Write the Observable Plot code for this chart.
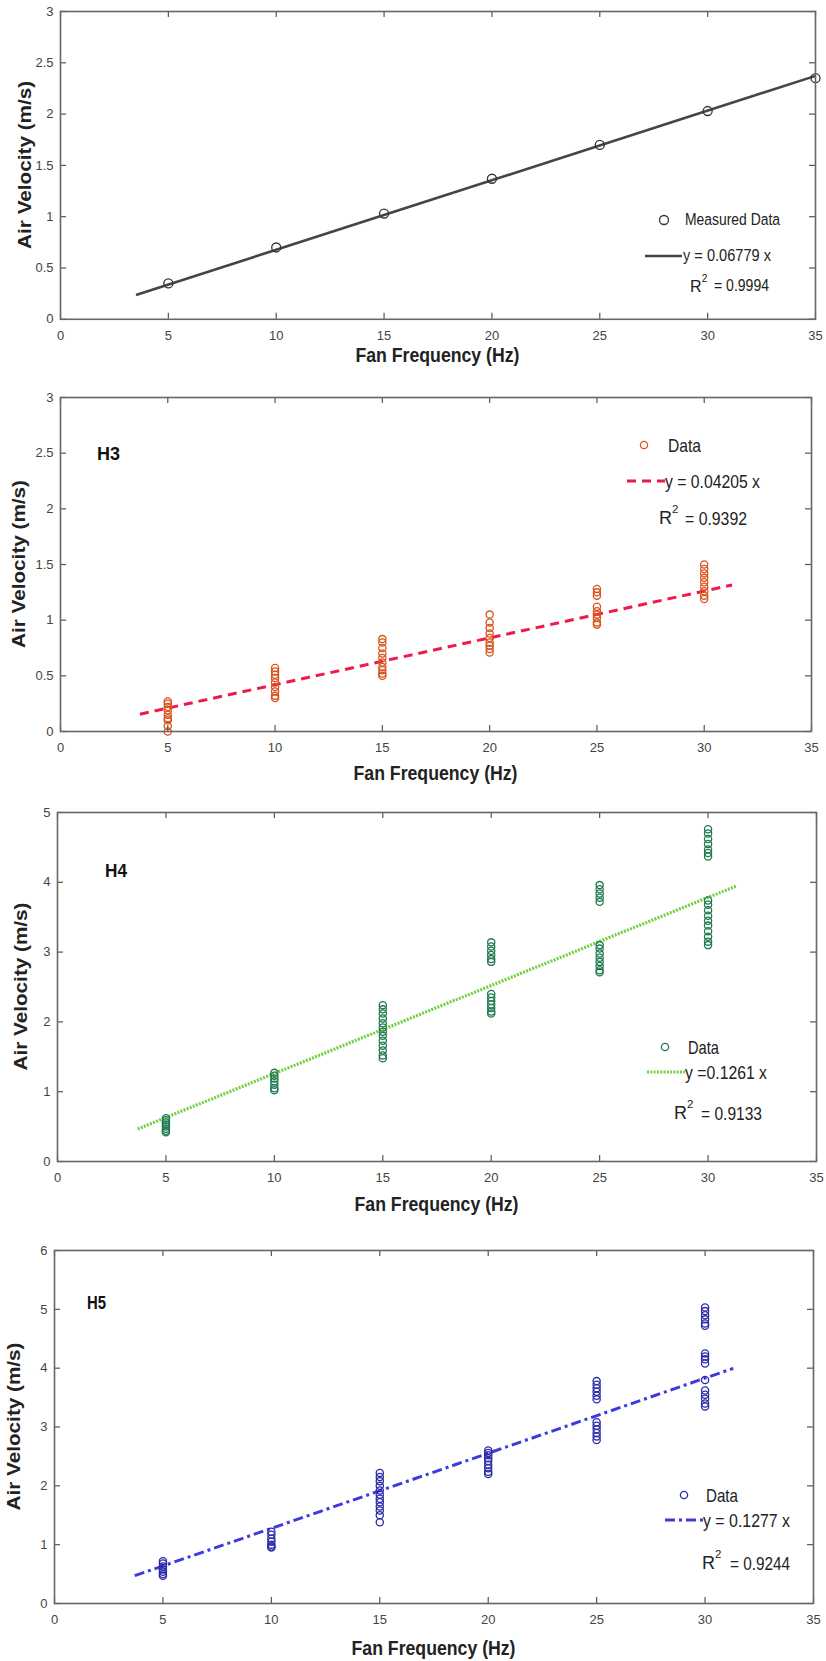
<!DOCTYPE html>
<html><head><meta charset="utf-8">
<script src="https://cdn.jsdelivr.net/npm/d3@7"></script>
<script src="https://cdn.jsdelivr.net/npm/@observablehq/plot@0.6"></script>
<style>
body{margin:0;background:#fff;}
#wrap{position:relative;width:826px;height:1661px;overflow:hidden;background:#fff;}
#wrap svg{position:absolute;left:0;}
</style></head><body><div id="wrap"></div>
<script>
// ---------- data ----------
const xTicks = [0, 5, 10, 15, 20, 25, 30, 35];

// Panel 1 : measured data
const p1Freq = [5, 10, 15, 20, 25, 30, 35];
const p1Vel = [0.35, 0.70, 1.03, 1.37, 1.70, 2.03, 2.35];
const p1Slope = 0.06779;
const p1FitX = [3.5, 35];
const p1YTicks = [0, 0.5, 1, 1.5, 2, 2.5, 3];

// Panel 2 : H3
const h3Freq = [5, 10, 15, 20, 25, 30];
const h3Vel = [
  [0.27, 0.25, 0.22, 0.19, 0.15, 0.12, 0.10, 0.05, 0.0],
  [0.57, 0.54, 0.51, 0.48, 0.44, 0.40, 0.36, 0.32, 0.30],
  [0.83, 0.80, 0.75, 0.70, 0.66, 0.62, 0.58, 0.55, 0.52, 0.50],
  [1.05, 0.98, 0.93, 0.88, 0.84, 0.80, 0.77, 0.74, 0.71],
  [1.28, 1.25, 1.22, 1.12, 1.08, 1.05, 1.02, 0.98, 0.96],
  [1.50, 1.46, 1.42, 1.38, 1.34, 1.30, 1.26, 1.22, 1.19]
];
const h3Slope = 0.04205;
const h3FitX = [3.7, 31.3];
const h3YTicks = [0, 0.5, 1, 1.5, 2, 2.5, 3];

// Panel 3 : H4
const h4Freq = [5, 10, 15, 20, 25, 30];
const h4Vel = [
  [0.62, 0.59, 0.56, 0.53, 0.50, 0.47, 0.44, 0.42],
  [1.27, 1.23, 1.19, 1.15, 1.10, 1.05, 1.02],
  [2.24, 2.18, 2.12, 2.05, 1.98, 1.92, 1.86, 1.80, 1.73, 1.66, 1.59, 1.52, 1.48],
  [3.14, 3.08, 3.02, 2.96, 2.90, 2.86, 2.40, 2.35, 2.30, 2.25, 2.20, 2.15, 2.12],
  [3.96, 3.90, 3.84, 3.78, 3.72, 3.10, 3.05, 2.98, 2.92, 2.86, 2.80, 2.74, 2.71],
  [4.76, 4.70, 4.62, 4.55, 4.47, 4.42, 4.37, 3.74, 3.68, 3.60, 3.52, 3.45, 3.38, 3.30, 3.22, 3.15, 3.10]
];
const h4Slope = 0.1261;
const h4FitX = [3.7, 31.3];
const h4YTicks = [0, 1, 2, 3, 4, 5];

// Panel 4 : H5
const h5Freq = [5, 10, 15, 20, 25, 30];
const h5Vel = [
  [0.72, 0.68, 0.63, 0.58, 0.54, 0.50, 0.47],
  [1.22, 1.17, 1.10, 1.05, 1.00, 0.97, 0.95],
  [2.22, 2.15, 2.08, 2.00, 1.92, 1.85, 1.78, 1.72, 1.65, 1.58, 1.50, 1.38],
  [2.60, 2.56, 2.52, 2.47, 2.42, 2.36, 2.30, 2.24, 2.20],
  [3.78, 3.72, 3.66, 3.60, 3.53, 3.47, 3.08, 3.02, 2.96, 2.90, 2.84, 2.78],
  [5.03, 4.97, 4.90, 4.83, 4.76, 4.72, 4.25, 4.20, 4.15, 4.08, 3.80, 3.62, 3.55, 3.48, 3.40, 3.35]
];
const h5Slope = 0.1277;
const h5FitX = [3.7, 31.3];
const h5YTicks = [0, 1, 2, 3, 4, 5, 6];

// legend / annotation texts
const legendLabels = ["Measured Data", "Data", "Data", "Data"];
const eqLabels = ["y = 0.06779 x", "y = 0.04205 x", "y =0.1261 x", "y = 0.1277 x"];
const r2Labels = ["= 0.9994", "= 0.9392", "= 0.9133", "= 0.9244"];
const panelTags = [null, "H3", "H4", "H5"];
const xTitle = "Fan Frequency (Hz)";
const yTitle = "Air Velocity (m/s)";

// ---------- helpers ----------
const flat = (freq, vel) => freq.flatMap((f, i) => vel[i].map(v => ({f, v})));
const FONT = "'Liberation Sans',Arial,sans-serif";

const panels = [
  {points: p1Freq.map((f, i) => ({f, v: p1Vel[i]})), slope: p1Slope, fitX: p1FitX, yTicks: p1YTicks, yMax: 3,
   L: 60, R: 815, T: 10.7, B: 318.5, r: 4.5, dot: "#333", line: "#454545", lw: 2.6, dash: null,
   xlab: 36.5, ylabX: 25,
   leg: {cx: 604, cy: 209, tx: 625, lx1: 585, lx2: 622, ly: 245, ex: 623, rx: 630, ry: 275, r2x: 654, fs: 17,
         w: [95, 88, 55]}},
  {points: flat(h3Freq, h3Vel), slope: h3Slope, fitX: h3FitX, yTicks: h3YTicks, yMax: 3,
   L: 60, R: 811, T: 397, B: 731, r: 3.6, dot: "#d9531e", line: "#f0194b", lw: 3, dash: "9,6",
   xlab: 42, ylabX: 19, tag: {x: 37, y: 56, w: 23},
   leg: {cx: 584, cy: 48, tx: 608, lx1: 567, lx2: 605, ly: 84, ex: 605, rx: 599, ry: 121, r2x: 625, fs: 19,
         w: [33, 95, 62]}},
  {points: flat(h4Freq, h4Vel), slope: h4Slope, fitX: h4FitX, yTicks: h4YTicks, yMax: 5,
   L: 57, R: 816, T: 812, B: 1161, r: 3.6, dot: "#1f7a4f", line: "#72d040", lw: 3.2, dash: "2,1.3",
   xlab: 43, ylabX: 21, tag: {x: 48, y: 58, w: 22},
   leg: {cx: 608, cy: 235, tx: 631, lx1: 590, lx2: 628, ly: 260, ex: 628, rx: 617, ry: 301, r2x: 644, fs: 19,
         w: [31, 82, 61]}},
  {points: flat(h5Freq, h5Vel), slope: h5Slope, fitX: h5FitX, yTicks: h5YTicks, yMax: 6,
   L: 54, R: 813, T: 1250, B: 1603, r: 3.6, dot: "#2b2ba8", line: "#3b3be0", lw: 3, dash: "10,4,3,4",
   xlab: 44.5, ylabX: 14, tag: {x: 33, y: 52, w: 19},
   leg: {cx: 630, cy: 245, tx: 652, lx1: 611, lx2: 649, ly: 270, ex: 649, rx: 648, ry: 313, r2x: 676, fs: 19,
         w: [32, 87, 60]}}
];

function addText(parent, str, x, y, o = {}) {
  const t = parent.append("text").text(str)
    .attr("x", x).attr("y", y)
    .attr("text-anchor", o.anchor || "start")
    .attr("dominant-baseline", "central")
    .attr("font-family", FONT)
    .attr("font-size", o.size || 16)
    .attr("font-weight", o.weight || "normal")
    .attr("fill", o.fill || "#222");
  if (o.width) t.attr("textLength", o.width).attr("lengthAdjust", "spacingAndGlyphs");
  if (o.transform) t.attr("transform", o.transform);
  return t;
}

const wrap = document.getElementById("wrap");
const W = 826, MT = 30, MB = 60;

panels.forEach((c, i) => {
  const fh = c.B - c.T, fw = c.R - c.L;
  const fit = c.fitX.map(x => ({x, y: c.slope * x}));
  const svg = Plot.plot({
    width: W, height: fh + MT + MB,
    marginLeft: c.L, marginRight: W - c.R, marginTop: MT, marginBottom: MB,
    x: {domain: [0, 35]},
    y: {domain: [0, c.yMax]},
    style: {fontFamily: FONT, fontSize: "13px", color: "#444", background: "transparent", overflow: "visible"},
    marks: [
      Plot.line(fit, {x: "x", y: "y", stroke: c.line, strokeWidth: c.lw, strokeDasharray: c.dash, strokeLinecap: "butt"}),
      Plot.dot(c.points, {x: "f", y: "v", r: c.r, stroke: c.dot, strokeWidth: 1.3, fill: "none"}),
      Plot.tickX(xTicks, {x: d => d, insetTop: fh - 6, stroke: "#555", strokeWidth: 1.2}),
      Plot.tickX(xTicks, {x: d => d, insetBottom: fh - 6, stroke: "#555", strokeWidth: 1.2}),
      Plot.tickY(c.yTicks, {y: d => d, insetRight: fw - 6, stroke: "#555", strokeWidth: 1.2}),
      Plot.tickY(c.yTicks, {y: d => d, insetLeft: fw - 6, stroke: "#555", strokeWidth: 1.2}),
      Plot.axisX(xTicks, {tickSize: 0, tickPadding: 11, label: null, fill: "#444", tickFormat: d => String(d)}),
      Plot.axisY(c.yTicks, {tickSize: 0, tickPadding: 7, label: null, fill: "#444", tickFormat: d => String(d)}),
      Plot.frame({stroke: "#666", strokeWidth: 1.6})
    ]
  });
  svg.style.top = (c.T - MT) + "px";
  wrap.appendChild(svg);

  const s = d3.select(svg);
  const ox = c.L, oy = MT; // frame origin inside this svg
  // axis titles
  addText(s, xTitle, (c.L + c.R) / 2, MT + fh + c.xlab, {anchor: "middle", size: 20, weight: "bold", width: 164});
  addText(s, yTitle, 0, 0, {anchor: "middle", size: 18, weight: "bold", width: 168,
    transform: `translate(${c.ylabX},${MT + fh / 2}) rotate(-90)`});
  // panel tag
  if (c.tag) {
    addText(s, panelTags[i], ox + c.tag.x, oy + c.tag.y, {size: 19, weight: "bold", fill: "#111", width: c.tag.w});
  }
  // legend
  const g = c.leg;
  const lg = s.append("g").attr("transform", `translate(${ox},${oy})`);
  lg.append("circle").attr("cx", g.cx).attr("cy", g.cy).attr("r", c.r)
    .attr("fill", "none").attr("stroke", c.dot).attr("stroke-width", 1.3);
  addText(lg, legendLabels[i], g.tx, g.cy, {size: g.fs, width: g.w[0]});
  lg.append("line").attr("x1", g.lx1).attr("x2", g.lx2).attr("y1", g.ly).attr("y2", g.ly)
    .attr("stroke", c.line).attr("stroke-width", c.lw).attr("stroke-dasharray", c.dash);
  addText(lg, eqLabels[i], g.ex, g.ly, {size: g.fs, width: g.w[1]});
  const rt = addText(lg, "R", g.rx, g.ry, {size: g.fs * 0.95});
  rt.append("tspan").text("2").attr("font-size", g.fs * 0.6).attr("dy", -g.fs * 0.45);
  addText(lg, r2Labels[i], g.r2x, g.ry, {size: g.fs, width: g.w[2]});
});
</script>
</body></html>
